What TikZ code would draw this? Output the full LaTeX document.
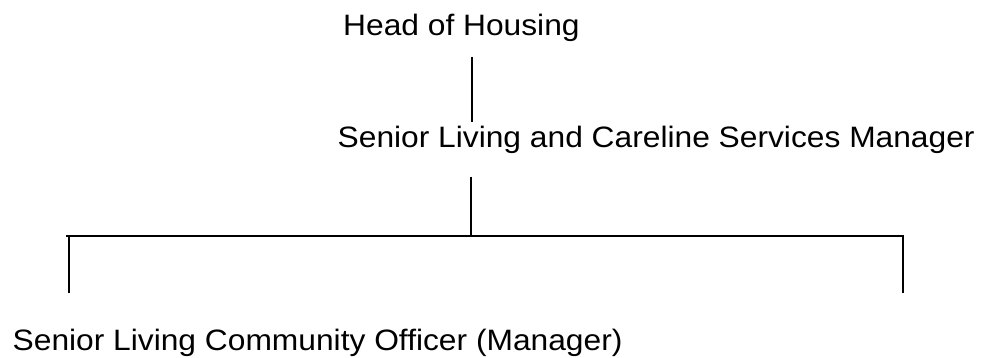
\documentclass[tikz,border=0pt]{standalone}
\usepackage{fontspec}
\setmainfont[FakeStretch=1.076]{Liberation Sans}
\usetikzlibrary{positioning}
\tikzset{
  post/.style={font=\fontsize{29.5}{34}\selectfont, inner sep=0pt, anchor=base west},
  link/.style={line width=2.7pt}
}

\begin{document}
\begin{tikzpicture}[x=1pt,y=-1pt]
            \useasboundingbox (0,0) rectangle (988,358);
            \node[post] (head) at (343,35.7) {Head of Housing};
            \node[post] (mgr) at (337.5,147.5) {Senior Living and Careline Services Manager};
            \node[post] (officer) at (12.5,350) {Senior Living Community Officer (Manager)};
            \coordinate (uptop) at (472,57);
            \coordinate (upbot) at (472,122);
            \coordinate (midtop) at (471,177);
            \coordinate (midbot) at (471,236);
            \coordinate (leftend) at (66,236);
            \coordinate (rightend) at (904,236);
            \coordinate (leftfoot) at (69,293);
            \coordinate (rightfoot) at (903,293);
            \draw[link] (uptop)--(upbot);
            \draw[link] (midtop)--(midbot);
            \draw[link] (leftend)--(rightend);
            \draw[link] (leftfoot)--(leftfoot|-leftend);
            \draw[link] (rightfoot)--(rightfoot|-rightend);
        \end{tikzpicture}
\end{document}
